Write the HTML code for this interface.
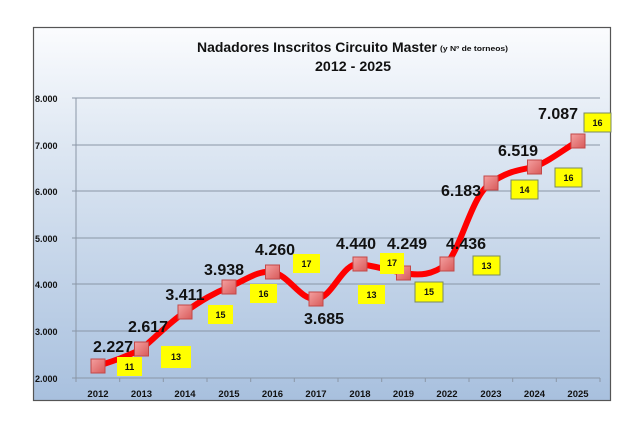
<!DOCTYPE html>
<html><head><meta charset="utf-8"><style>
html,body{margin:0;padding:0;background:#fff;width:640px;height:437px;overflow:hidden}
</style></head><body>
<svg width="640" height="437" viewBox="0 0 640 437" xmlns="http://www.w3.org/2000/svg" font-family="Liberation Sans, sans-serif">
<defs>
<linearGradient id="bg" x1="0" y1="0" x2="0" y2="1">
<stop offset="0" stop-color="#fbfcfe"/><stop offset="0.3" stop-color="#dfe8f3"/><stop offset="1" stop-color="#a8c0de"/>
</linearGradient>
<linearGradient id="mk" x1="0" y1="0" x2="1" y2="1">
<stop offset="0" stop-color="#f4a0a0"/><stop offset="1" stop-color="#d85a5a"/>
</linearGradient>
</defs>
<rect x="33.5" y="27.5" width="577" height="373" fill="url(#bg)" stroke="#555" stroke-width="1.2"/>
<text x="197" y="52" font-size="14" font-weight="bold" fill="#111" textLength="240" lengthAdjust="spacingAndGlyphs">Nadadores Inscritos Circuito Master</text>
<text x="440" y="51" font-size="7" font-weight="bold" fill="#111" textLength="68" lengthAdjust="spacingAndGlyphs">(y Nº de torneos)</text>
<text x="353" y="71" text-anchor="middle" font-size="14" font-weight="bold" fill="#111" textLength="76" lengthAdjust="spacingAndGlyphs">2012 - 2025</text>
<g stroke="#8a96a6" stroke-width="1">
<line x1="72" y1="98" x2="600" y2="98"/><line x1="72" y1="145" x2="600" y2="145"/>
<line x1="72" y1="191" x2="600" y2="191"/><line x1="72" y1="238" x2="600" y2="238"/>
<line x1="72" y1="284" x2="600" y2="284"/><line x1="72" y1="331" x2="600" y2="331"/>
<line x1="72" y1="378" x2="600" y2="378"/><line x1="76" y1="98" x2="76" y2="382"/>
<line x1="119.7" y1="378" x2="119.7" y2="382"/><line x1="163.3" y1="378" x2="163.3" y2="382"/><line x1="207" y1="378" x2="207" y2="382"/>
<line x1="250.7" y1="378" x2="250.7" y2="382"/><line x1="294.3" y1="378" x2="294.3" y2="382"/><line x1="338" y1="378" x2="338" y2="382"/>
<line x1="381.7" y1="378" x2="381.7" y2="382"/><line x1="425.3" y1="378" x2="425.3" y2="382"/><line x1="469" y1="378" x2="469" y2="382"/>
<line x1="512.7" y1="378" x2="512.7" y2="382"/><line x1="556.3" y1="378" x2="556.3" y2="382"/><line x1="600" y1="378" x2="600" y2="382"/>
</g>
<g font-size="9" font-weight="bold" fill="#111">
<text x="35" y="102">8.000</text><text x="35" y="149">7.000</text><text x="35" y="195">6.000</text>
<text x="35" y="242">5.000</text><text x="35" y="288">4.000</text><text x="35" y="335">3.000</text><text x="35" y="382">2.000</text>
</g>
<g font-size="9.5" font-weight="bold" fill="#111" text-anchor="middle">
<text x="98" y="397">2012</text><text x="141.5" y="397">2013</text><text x="185" y="397">2014</text><text x="229" y="397">2015</text>
<text x="272.5" y="397">2016</text><text x="316" y="397">2017</text><text x="360" y="397">2018</text><text x="403.5" y="397">2019</text>
<text x="447" y="397">2022</text><text x="491" y="397">2023</text><text x="534.5" y="397">2024</text><text x="578" y="397">2025</text>
</g>
<path d="M98,366 C116,360 128,356 141.5,349 C158,335 170,322 185,312 C202,300 214,293 229,287 C246,280 258,270 272.5,272 C290,276 300,300 316,299 C333,298 342,262 360,264 C374,266 388,270 403.5,273 C420,276 432,275 447,264 C464,240 472,195 491,183 C506,172 518,170 534.5,167 C551,160 563,150 578,141" fill="none" stroke="#ff0000" stroke-width="6" stroke-linecap="round"/>
<g fill="url(#mk)" stroke="#c24848" stroke-width="1">
<rect x="91" y="359" width="14" height="14"/><rect x="134.5" y="342" width="14" height="14"/><rect x="178" y="305" width="14" height="14"/>
<rect x="222" y="280" width="14" height="14"/><rect x="265.5" y="265" width="14" height="14"/><rect x="309" y="292" width="14" height="14"/>
<rect x="353" y="257" width="14" height="14"/><rect x="396.5" y="266" width="14" height="14"/><rect x="440" y="257" width="14" height="14"/>
<rect x="484" y="176" width="14" height="14"/><rect x="527.5" y="160" width="14" height="14"/><rect x="571" y="134" width="14" height="14"/>
</g>
<g font-size="16" font-weight="bold" fill="#111" text-anchor="middle">
<text x="113" y="352">2.227</text><text x="148" y="332">2.617</text><text x="185" y="300">3.411</text><text x="224" y="275">3.938</text>
<text x="275" y="255">4.260</text><text x="324" y="324">3.685</text>
<text x="356" y="249">4.440</text><text x="407" y="249">4.249</text><text x="466" y="249">4.436</text>
<text x="461" y="196">6.183</text><text x="518" y="156">6.519</text><text x="558" y="119">7.087</text>
</g>
<g font-size="9" font-weight="bold" fill="#111" text-anchor="middle">
<g><rect x="117" y="357" width="25" height="19" fill="#ffff00"/><text x="129.5" y="370">11</text></g>
<g><rect x="161" y="346" width="30" height="22" fill="#ffff00"/><text x="176" y="360">13</text></g>
<g><rect x="208" y="305" width="25" height="19" fill="#ffff00"/><text x="220.5" y="318">15</text></g>
<g><rect x="250" y="284" width="27" height="19" fill="#ffff00"/><text x="263.5" y="297">16</text></g>
<g><rect x="293" y="254" width="27" height="19" fill="#ffff00"/><text x="306.5" y="267">17</text></g>
<g><rect x="358" y="285" width="27" height="19" fill="#ffff00"/><text x="371.5" y="298">13</text></g>
<g><rect x="380" y="253" width="24" height="21" fill="#ffff00"/><text x="392" y="266">17</text></g>
<g><rect x="415" y="282" width="28" height="20" fill="#ffff00" stroke="#7a8a60" stroke-width="1"/><text x="429" y="295">15</text></g>
<g><rect x="473" y="256" width="27" height="19" fill="#ffff00" stroke="#7a8a60" stroke-width="1"/><text x="486.5" y="269">13</text></g>
<g><rect x="511" y="180" width="27" height="19" fill="#ffff00" stroke="#7a8a60" stroke-width="1"/><text x="524.5" y="193">14</text></g>
<g><rect x="555" y="168" width="27" height="19" fill="#ffff00" stroke="#7a8a60" stroke-width="1"/><text x="568.5" y="181">16</text></g>
<g><rect x="584" y="113" width="27" height="19" fill="#ffff00" stroke="#7a8a60" stroke-width="1"/><text x="597.5" y="126">16</text></g>
</g>
</svg>
</body></html>
